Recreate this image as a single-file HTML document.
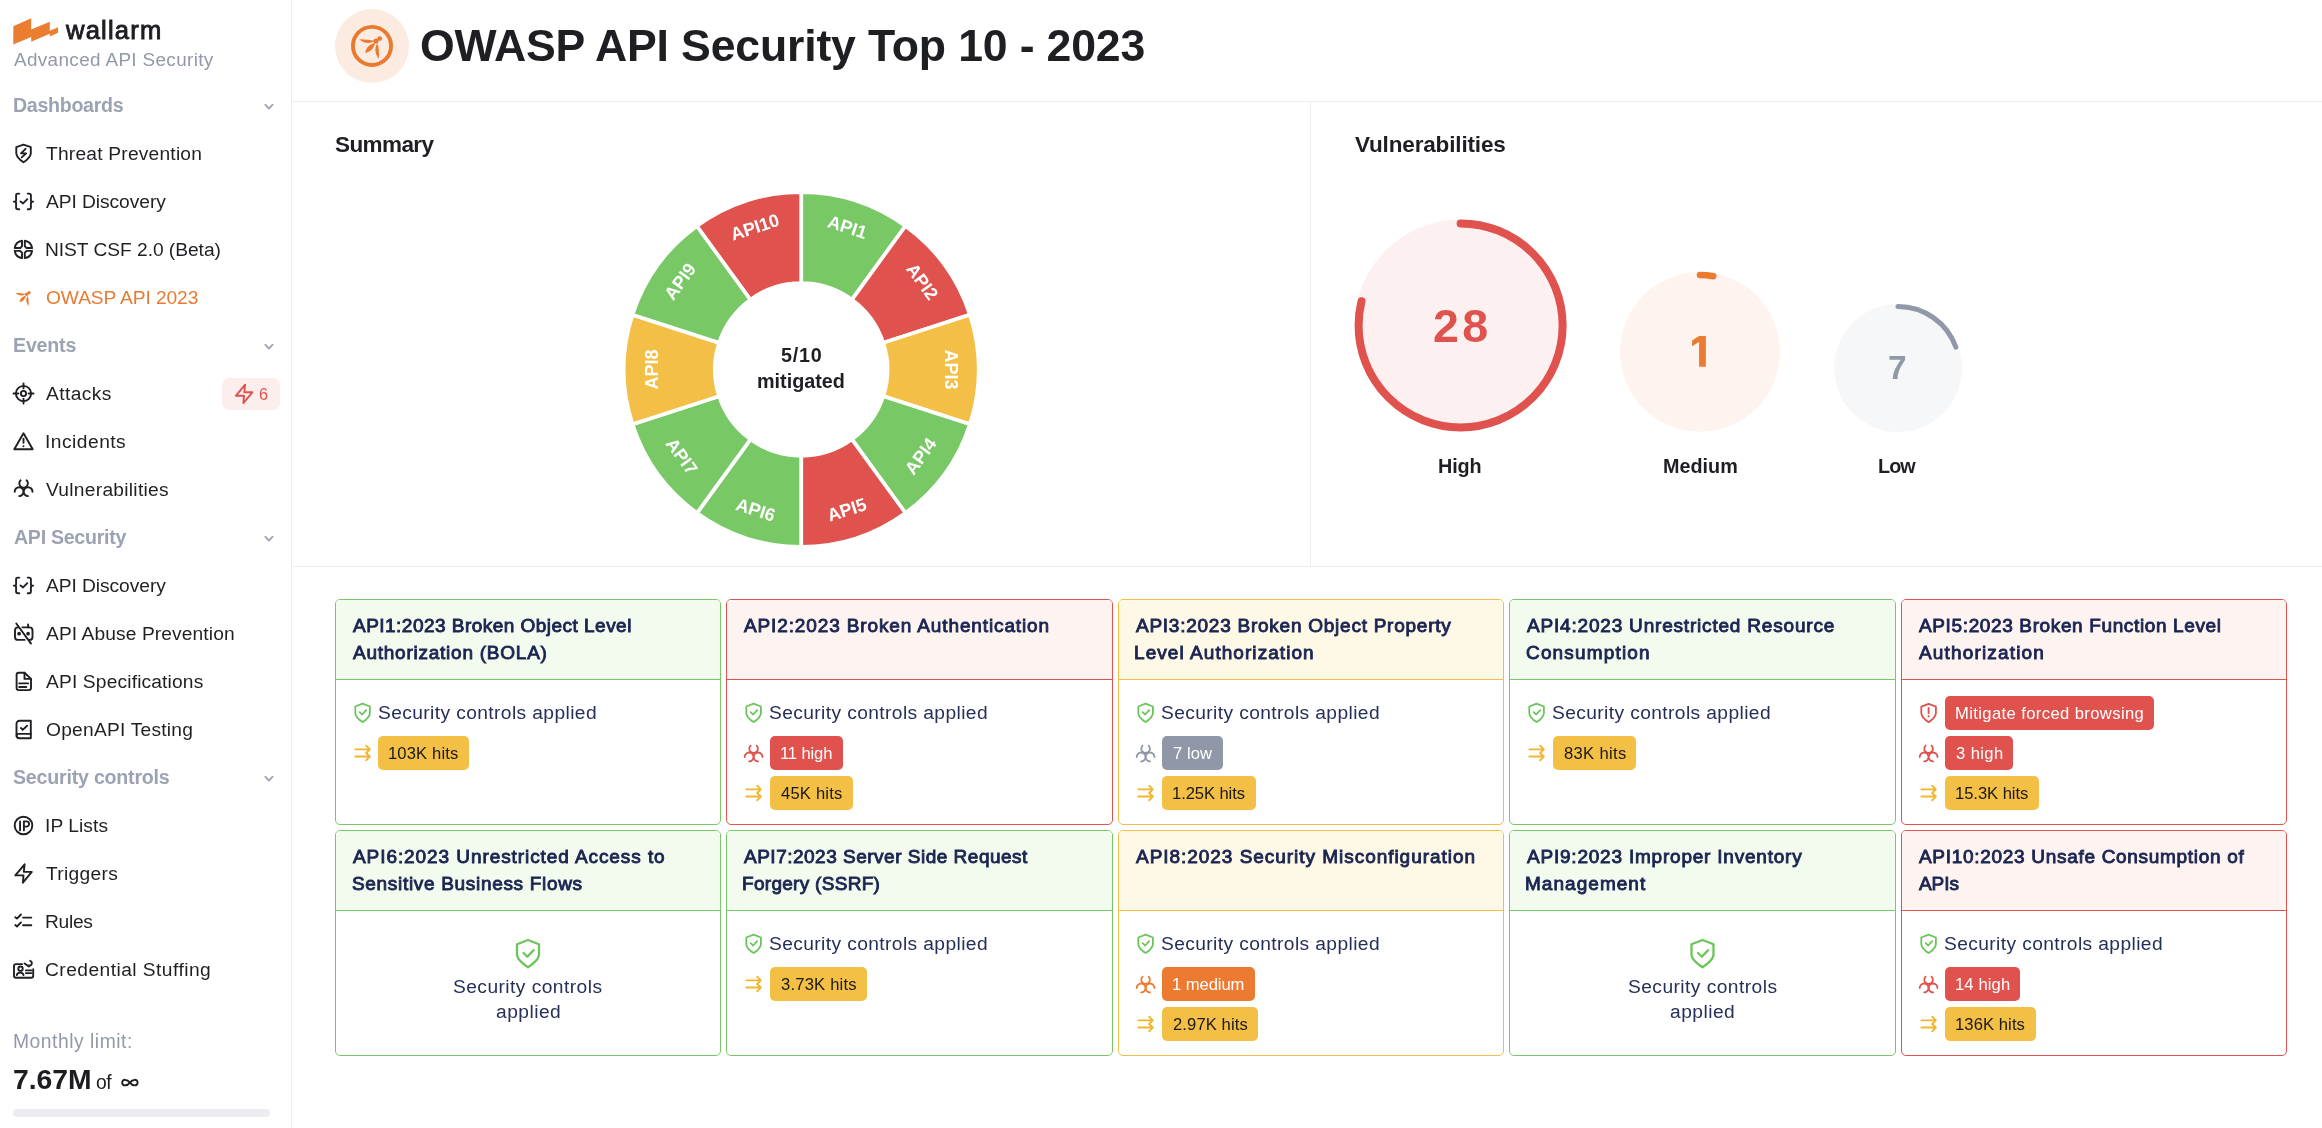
<!DOCTYPE html><html><head><meta charset="utf-8"><style>
*{box-sizing:border-box}
html,body{margin:0;padding:0}
body{width:2322px;height:1128px;overflow:hidden;background:#fff;position:relative;font-family:"Liberation Sans",sans-serif}
.t{position:absolute;line-height:0;white-space:nowrap;z-index:3;will-change:transform}
svg{overflow:visible;z-index:2;will-change:transform}
</style></head><body><div style="position:absolute;left:291px;top:0px;width:1px;height:1128px;background:#eceef3"></div>
<div style="position:absolute;left:292px;top:101px;width:2030px;height:1px;background:#eceef3"></div>
<div style="position:absolute;left:1310px;top:102px;width:1px;height:464px;background:#eceef3"></div>
<div style="position:absolute;left:292px;top:566px;width:2030px;height:1px;background:#eceef3"></div>
<svg style="position:absolute;left:0px;top:0px;" width="70" height="50" viewBox="0 0 70 50"><polygon fill="#eb7d31" points="13.3,26.2 31.2,18.3 31.2,29.6 49.8,21.7 49.8,30.7 58.1,27.2 58.1,32.7 49.8,36.5 49.8,33.8 31.2,41.7 31.2,36.9 13.3,44.5"/></svg>
<div class="t" style="left:65.80px;top:30.00px;font-size:25.6px;font-weight:400;color:#1d1e22;letter-spacing:1.179px;-webkit-text-stroke:0.9px #1d1e22;">wallarm</div>
<div class="t" style="left:14.00px;top:60.00px;font-size:18.9px;font-weight:400;color:#9199aa;letter-spacing:0.355px;">Advanced API Security</div>
<div class="t" style="left:12.73px;top:105.00px;font-size:19.6px;font-weight:700;color:#9ba2b2;letter-spacing:-0.292px;">Dashboards</div>
<div class="t" style="left:12.73px;top:345.00px;font-size:19.6px;font-weight:700;color:#9ba2b2;letter-spacing:-0.186px;">Events</div>
<div class="t" style="left:13.51px;top:537.00px;font-size:19.6px;font-weight:700;color:#9ba2b2;letter-spacing:-0.287px;">API Security</div>
<div class="t" style="left:13.41px;top:777.00px;font-size:19.6px;font-weight:700;color:#9ba2b2;letter-spacing:-0.210px;">Security controls</div>
<div class="t" style="left:46.02px;top:154.00px;font-size:19.2px;font-weight:400;color:#1f2023;letter-spacing:0.212px;">Threat Prevention</div>
<div class="t" style="left:46.40px;top:202.00px;font-size:19.2px;font-weight:400;color:#1f2023;letter-spacing:-0.056px;">API Discovery</div>
<div class="t" style="left:44.86px;top:250.00px;font-size:19.2px;font-weight:400;color:#1f2023;letter-spacing:-0.042px;">NIST CSF 2.0 (Beta)</div>
<div class="t" style="left:45.54px;top:298.00px;font-size:19.2px;font-weight:400;color:#e97a31;letter-spacing:-0.097px;">OWASP API 2023</div>
<div class="t" style="left:46.40px;top:394.00px;font-size:19.2px;font-weight:400;color:#1f2023;letter-spacing:0.399px;">Attacks</div>
<div class="t" style="left:44.67px;top:442.00px;font-size:19.2px;font-weight:400;color:#1f2023;letter-spacing:0.488px;">Incidents</div>
<div class="t" style="left:46.30px;top:490.00px;font-size:19.2px;font-weight:400;color:#1f2023;letter-spacing:0.273px;">Vulnerabilities</div>
<div class="t" style="left:46.40px;top:586.00px;font-size:19.2px;font-weight:400;color:#1f2023;letter-spacing:-0.056px;">API Discovery</div>
<div class="t" style="left:46.40px;top:634.00px;font-size:19.2px;font-weight:400;color:#1f2023;letter-spacing:0.102px;">API Abuse Prevention</div>
<div class="t" style="left:46.40px;top:682.00px;font-size:19.2px;font-weight:400;color:#1f2023;letter-spacing:0.154px;">API Specifications</div>
<div class="t" style="left:45.54px;top:730.00px;font-size:19.2px;font-weight:400;color:#1f2023;letter-spacing:0.236px;">OpenAPI Testing</div>
<div class="t" style="left:44.67px;top:826.00px;font-size:19.2px;font-weight:400;color:#1f2023;letter-spacing:0.058px;">IP Lists</div>
<div class="t" style="left:46.02px;top:874.00px;font-size:19.2px;font-weight:400;color:#1f2023;letter-spacing:0.309px;">Triggers</div>
<div class="t" style="left:44.86px;top:922.00px;font-size:19.2px;font-weight:400;color:#1f2023;letter-spacing:-0.287px;">Rules</div>
<div class="t" style="left:45.44px;top:970.00px;font-size:19.2px;font-weight:400;color:#1f2023;letter-spacing:0.454px;">Credential Stuffing</div>
<svg style="position:absolute;left:0px;top:0px;" width="2322" height="1128" viewBox="0 0 2322 1128"><g transform="translate(10 140)" fill="none" stroke="#1f2023" stroke-width="1.9" stroke-linecap="round" stroke-linejoin="round"><path d="M13.5 4.7L20.8 7.2V13.6C20.2 17.5 17 20 13.5 22.3C10 20 6.8 17.5 6.3 13.6V7.2Z"/><path d="M15.5 8.8L11 13.35H16.2L11.7 17.4"/></g><g transform="translate(10 188)" fill="none" stroke="#1f2023" stroke-width="1.9" stroke-linecap="round" stroke-linejoin="round"><path d="M9.3 5.6H7.8Q6.1 5.6 6.1 7.3V12.2Q6.1 13.65 3.9 13.65Q6.1 13.65 6.1 15.1V19.5Q6.1 21.2 7.8 21.2H9.3"/><path d="M17.7 5.6H19.2Q20.9 5.6 20.9 7.3V12.2Q20.9 13.65 23.1 13.65Q20.9 13.65 20.9 15.1V19.5Q20.9 21.2 19.2 21.2H17.7"/><path d="M10.5 13.4L13.1 15.4L17.3 11.2"/></g><g transform="translate(10 236)" fill="none" stroke="#1f2023" stroke-width="1.9" stroke-linecap="round" stroke-linejoin="round"><path transform="translate(13.4 13.45) rotate(0)" d="M-1.40 -8.69L-1.40 -3.10A3.4 3.4 0 0 0 -3.10 -1.40L-8.69 -1.40A8.8 8.8 0 0 1 -1.40 -8.69Z"/><path transform="translate(13.4 13.45) rotate(90)" d="M-1.40 -8.69L-1.40 -3.10A3.4 3.4 0 0 0 -3.10 -1.40L-8.69 -1.40A8.8 8.8 0 0 1 -1.40 -8.69Z"/><path transform="translate(13.4 13.45) rotate(180)" d="M-1.40 -8.69L-1.40 -3.10A3.4 3.4 0 0 0 -3.10 -1.40L-8.69 -1.40A8.8 8.8 0 0 1 -1.40 -8.69Z"/><path transform="translate(13.4 13.45) rotate(270)" d="M-1.40 -8.69L-1.40 -3.10A3.4 3.4 0 0 0 -3.10 -1.40L-8.69 -1.40A8.8 8.8 0 0 1 -1.40 -8.69Z"/></g><g transform="translate(10 380)" fill="none" stroke="#1f2023" stroke-width="1.9" stroke-linecap="round" stroke-linejoin="round"><circle cx="13.5" cy="13.5" r="7.6"/><circle cx="13.5" cy="13.5" r="2.6"/><path d="M13.5 3.5V8.4M13.5 18.6V23.5M3.5 13.5H8.4M18.6 13.5H23.5"/></g><g transform="translate(10 428)" fill="none" stroke="#1f2023" stroke-width="1.9" stroke-linecap="round" stroke-linejoin="round"><path d="M13.5 5.3L22.7 21.3H4.3Z"/><path d="M13.5 10.7V14.8"/><path d="M13.5 18.2V18.3"/></g><g transform="translate(10 476)" fill="none" stroke="#1f2023" stroke-width="1.9" stroke-linecap="round" stroke-linejoin="round"><path d="M10.6 4.3A4.3 4.3 0 1 0 16.6 4.3"/><path d="M4.7 15.7A4.45 4.45 0 1 1 9.15 20.1"/><path d="M22.5 15.7A4.45 4.45 0 1 0 18.05 20.1"/></g><g transform="translate(10 572)" fill="none" stroke="#1f2023" stroke-width="1.9" stroke-linecap="round" stroke-linejoin="round"><path d="M9.3 5.6H7.8Q6.1 5.6 6.1 7.3V12.2Q6.1 13.65 3.9 13.65Q6.1 13.65 6.1 15.1V19.5Q6.1 21.2 7.8 21.2H9.3"/><path d="M17.7 5.6H19.2Q20.9 5.6 20.9 7.3V12.2Q20.9 13.65 23.1 13.65Q20.9 13.65 20.9 15.1V19.5Q20.9 21.2 19.2 21.2H17.7"/><path d="M10.5 13.4L13.1 15.4L17.3 11.2"/></g><g transform="translate(10 620)" fill="none" stroke="#1f2023" stroke-width="1.9" stroke-linecap="round" stroke-linejoin="round"><path d="M8.2 7.4H8A3 3 0 0 0 5 10.4V16.9A3 3 0 0 0 8 19.9H14.6"/><path d="M12.4 7.4H19.5A3 3 0 0 1 22.5 10.4V16.9A3 3 0 0 1 19.5 19.9H19"/><path d="M6.3 3.5L21 23.6"/><path d="M18.1 4.5V7.4"/><circle cx="9.1" cy="13.7" r="0.9" fill="#1f2023"/><circle cx="18.1" cy="13.7" r="0.9" fill="#1f2023"/></g><g transform="translate(10 668)" fill="none" stroke="#1f2023" stroke-width="1.9" stroke-linecap="round" stroke-linejoin="round"><path d="M14.5 4.8H8.6A2 2 0 0 0 6.6 6.8V20.1A2 2 0 0 0 8.6 22.1H19A2 2 0 0 0 21 20.1V10.9Z"/><path d="M14.5 4.8V10.9H21"/><path d="M9.2 15.4H18.1M9.2 19H16.3"/></g><g transform="translate(10 716)" fill="none" stroke="#1f2023" stroke-width="1.9" stroke-linecap="round" stroke-linejoin="round"><path d="M20.8 4.8V22.2H9.5A3 3 0 0 1 6.5 19.2V7.8A3 3 0 0 1 9.5 4.8Z"/><path d="M20.8 17.9H8.8A2.2 2.2 0 0 0 6.6 20.1"/><path d="M10.9 11.9L12.7 13.9L17.1 9.8"/></g><g transform="translate(10 812)" fill="none" stroke="#1f2023" stroke-width="1.9" stroke-linecap="round" stroke-linejoin="round"><circle cx="13.5" cy="13.5" r="8.8"/><path d="M10.05 9.4V18.4"/><path d="M13.9 18.4V9.4H16.5A2.6 2.6 0 0 1 16.5 14.6H13.9"/></g><g transform="translate(10 860)" fill="none" stroke="#1f2023" stroke-width="1.9" stroke-linecap="round" stroke-linejoin="round"><path d="M14.6 4.3L13.8 11.9H21.8L12.9 22.7L13.5 15.4H5.3Z"/></g><g transform="translate(10 908)" fill="none" stroke="#1f2023" stroke-width="1.9" stroke-linecap="round" stroke-linejoin="round"><path d="M5.3 9.2L7 10.6L11 6.5M5.3 17.1L7 18.5L11 14.4M13 9.6H21.3M13 17.2H21.3"/></g><g transform="translate(10 956)" fill="none" stroke="#1f2023" stroke-width="1.9" stroke-linecap="round" stroke-linejoin="round"><path d="M12.2 8.1H6A2 2 0 0 0 4 10.1V19.7A2 2 0 0 0 6 21.7H21.2A2 2 0 0 0 23.2 19.7V13.2"/><circle cx="10.5" cy="12.7" r="2.2"/><path d="M6.8 19.1A3.4 3 0 0 1 13.5 19.1"/><path d="M15.9 14.4H21.4M15.9 17.1H21.4"/><path d="M14.6 7.5L18.9 10.6"/><path d="M20.2 4.8A2.4 2.4 0 1 1 18.5 9.5"/></g><path d="M15.54 293.10C18.32 295.85 22.39 296.32 25.73 294.30C22.73 293.50 18.65 293.02 15.54 293.10ZM19.40 302.10C22.85 301.58 25.21 299.27 26.13 295.50C22.35 296.35 19.99 298.66 19.40 302.10ZM27.60 295.77C25.56 299.08 25.82 302.19 28.46 306.16C28.91 301.94 28.65 298.82 27.60 295.77Z" fill="#ea7a30"/><circle cx="26.66" cy="294.24" r="1.73" fill="#ea7a30"/><circle cx="29.13" cy="292.64" r="1.60" fill="#ea7a30"/><path d="M265.3 104.7L268.9 108.6L272.6 104.7" fill="none" stroke="#9ba2b2" stroke-width="1.7" stroke-linecap="round" stroke-linejoin="round"/><path d="M265.3 344.7L268.9 348.6L272.6 344.7" fill="none" stroke="#9ba2b2" stroke-width="1.7" stroke-linecap="round" stroke-linejoin="round"/><path d="M265.3 536.7L268.9 540.6L272.6 536.7" fill="none" stroke="#9ba2b2" stroke-width="1.7" stroke-linecap="round" stroke-linejoin="round"/><path d="M265.3 776.7L268.9 780.6L272.6 776.7" fill="none" stroke="#9ba2b2" stroke-width="1.7" stroke-linecap="round" stroke-linejoin="round"/><g transform="translate(230.5 380.4)" fill="none" stroke="#e0524d" stroke-width="1.9" stroke-linecap="round" stroke-linejoin="round"><path d="M14.6 4.3L13.8 11.9H21.8L12.9 22.7L13.5 15.4H5.3Z"/></g><path d="M129.9 1082.6C127.3 1079.2 122.2 1078.6 122.2 1082.6C122.2 1086.6 127.3 1086 129.9 1082.6C132.5 1079.2 137.6 1078.6 137.6 1082.6C137.6 1086.6 132.5 1086 129.9 1082.6Z" fill="none" stroke="#1c1d20" stroke-width="1.9"/><circle cx="372" cy="45.9" r="19.05" fill="none" stroke="#ea7a30" stroke-width="3.9"/><path d="M359.30 39.30C363.47 43.42 369.59 44.14 374.60 41.10C370.09 39.90 363.97 39.18 359.30 39.30ZM365.10 52.80C370.28 52.02 373.81 48.56 375.20 42.90C369.52 44.17 365.98 47.64 365.10 52.80ZM377.40 43.30C374.34 48.27 374.73 52.95 378.70 58.90C379.38 52.56 378.99 47.88 377.40 43.30Z" fill="#ea7a30"/><circle cx="376.00" cy="41.00" r="2.60" fill="#ea7a30"/><circle cx="379.70" cy="38.60" r="2.40" fill="#ea7a30"/></svg>
<div style="position:absolute;left:222px;top:378px;width:58px;height:32px;background:#fdeeee;border-radius:7px"></div>
<div class="t" style="left:259.39px;top:394.00px;font-size:16.2px;font-weight:400;color:#e0524d;letter-spacing:0.000px;">6</div>
<div class="t" style="left:12.86px;top:1042.00px;font-size:19.3px;font-weight:400;color:#9199aa;letter-spacing:0.520px;">Monthly limit:</div>
<div class="t" style="left:12.87px;top:1079.00px;font-size:28.3px;font-weight:700;color:#1c1d20;letter-spacing:-0.040px;">7.67M</div>
<div class="t" style="left:96.13px;top:1083.00px;font-size:19.3px;font-weight:400;color:#1c1d20;letter-spacing:-0.543px;">of</div>
<div style="position:absolute;left:13px;top:1109px;width:257px;height:8px;background:#ebedf2;border-radius:4px"></div>
<div style="position:absolute;left:335px;top:9px;width:74px;height:74px;background:#fcebe1;border-radius:50%"></div>
<div class="t" style="left:420.22px;top:46.00px;font-size:44.6px;font-weight:700;color:#1e1f22;letter-spacing:-0.161px;">OWASP API Security Top 10 - 2023</div>
<div class="t" style="left:335.02px;top:145.00px;font-size:22.5px;font-weight:700;color:#1e1f22;letter-spacing:-0.583px;">Summary</div>
<div class="t" style="left:1354.89px;top:145.00px;font-size:22.5px;font-weight:700;color:#1e1f22;letter-spacing:-0.155px;">Vulnerabilities</div>
<svg style="position:absolute;left:0px;top:0px;pointer-events:none" width="2322" height="1128" viewBox="0 0 2322 1128"><path d="M801.20 192.10A177.4 177.4 0 0 1 905.47 225.98L851.93 299.68A86.3 86.3 0 0 0 801.20 283.20Z" fill="#78c865" stroke="#fff" stroke-width="3.75" stroke-linejoin="miter"/><path d="M905.47 225.98A177.4 177.4 0 0 1 969.92 314.68L883.28 342.83A86.3 86.3 0 0 0 851.93 299.68Z" fill="#df524d" stroke="#fff" stroke-width="3.75" stroke-linejoin="miter"/><path d="M969.92 314.68A177.4 177.4 0 0 1 969.92 424.32L883.28 396.17A86.3 86.3 0 0 0 883.28 342.83Z" fill="#f3bf46" stroke="#fff" stroke-width="3.75" stroke-linejoin="miter"/><path d="M969.92 424.32A177.4 177.4 0 0 1 905.47 513.02L851.93 439.32A86.3 86.3 0 0 0 883.28 396.17Z" fill="#78c865" stroke="#fff" stroke-width="3.75" stroke-linejoin="miter"/><path d="M905.47 513.02A177.4 177.4 0 0 1 801.20 546.90L801.20 455.80A86.3 86.3 0 0 0 851.93 439.32Z" fill="#df524d" stroke="#fff" stroke-width="3.75" stroke-linejoin="miter"/><path d="M801.20 546.90A177.4 177.4 0 0 1 696.93 513.02L750.47 439.32A86.3 86.3 0 0 0 801.20 455.80Z" fill="#78c865" stroke="#fff" stroke-width="3.75" stroke-linejoin="miter"/><path d="M696.93 513.02A177.4 177.4 0 0 1 632.48 424.32L719.12 396.17A86.3 86.3 0 0 0 750.47 439.32Z" fill="#78c865" stroke="#fff" stroke-width="3.75" stroke-linejoin="miter"/><path d="M632.48 424.32A177.4 177.4 0 0 1 632.48 314.68L719.12 342.83A86.3 86.3 0 0 0 719.12 396.17Z" fill="#f3bf46" stroke="#fff" stroke-width="3.75" stroke-linejoin="miter"/><path d="M632.48 314.68A177.4 177.4 0 0 1 696.93 225.98L750.47 299.68A86.3 86.3 0 0 0 719.12 342.83Z" fill="#78c865" stroke="#fff" stroke-width="3.75" stroke-linejoin="miter"/><path d="M696.93 225.98A177.4 177.4 0 0 1 801.20 192.10L801.20 283.20A86.3 86.3 0 0 0 750.47 299.68Z" fill="#df524d" stroke="#fff" stroke-width="3.75" stroke-linejoin="miter"/><text x="0" y="0" transform="translate(847.55 226.84) rotate(18)" text-anchor="middle" dy="0.36em" font-family="Liberation Sans" font-weight="700" font-size="18" fill="#fff">API1</text><text x="0" y="0" transform="translate(922.55 281.33) rotate(54)" text-anchor="middle" dy="0.36em" font-family="Liberation Sans" font-weight="700" font-size="18" fill="#fff">API2</text><text x="0" y="0" transform="translate(951.20 369.50) rotate(90)" text-anchor="middle" dy="0.36em" font-family="Liberation Sans" font-weight="700" font-size="18" fill="#fff">API3</text><text x="0" y="0" transform="translate(920.29 456.02) rotate(-54)" text-anchor="middle" dy="0.36em" font-family="Liberation Sans" font-weight="700" font-size="18" fill="#fff">API4</text><text x="0" y="0" transform="translate(846.69 509.50) rotate(-18)" text-anchor="middle" dy="0.36em" font-family="Liberation Sans" font-weight="700" font-size="18" fill="#fff">API5</text><text x="0" y="0" transform="translate(755.71 509.50) rotate(18)" text-anchor="middle" dy="0.36em" font-family="Liberation Sans" font-weight="700" font-size="18" fill="#fff">API6</text><text x="0" y="0" transform="translate(682.11 456.02) rotate(54)" text-anchor="middle" dy="0.36em" font-family="Liberation Sans" font-weight="700" font-size="18" fill="#fff">API7</text><text x="0" y="0" transform="translate(651.20 369.50) rotate(-90)" text-anchor="middle" dy="0.36em" font-family="Liberation Sans" font-weight="700" font-size="18" fill="#fff">API8</text><text x="0" y="0" transform="translate(679.85 281.33) rotate(-54)" text-anchor="middle" dy="0.36em" font-family="Liberation Sans" font-weight="700" font-size="18" fill="#fff">API9</text><text x="0" y="0" transform="translate(754.85 226.84) rotate(-18)" text-anchor="middle" dy="0.36em" font-family="Liberation Sans" font-weight="700" font-size="18" fill="#fff">API10</text></svg>
<div class="t" style="left:780.76px;top:355.00px;font-size:19.8px;font-weight:700;color:#1e1f22;letter-spacing:0.725px;">5/10</div>
<div class="t" style="left:757.01px;top:381.00px;font-size:19.8px;font-weight:700;color:#1e1f22;letter-spacing:-0.005px;">mitigated</div>
<svg style="position:absolute;left:0px;top:0px;" width="2322" height="1128" viewBox="0 0 2322 1128"><circle cx="1460.6" cy="325.4" r="106" fill="#fdf0f0"/><circle cx="1460.6" cy="325.4" r="102.0" fill="none" stroke="#df524d" stroke-width="8" stroke-linecap="round" stroke-dasharray="504.38 640.88" transform="rotate(-90 1460.6 325.4)"/><circle cx="1700" cy="351.8" r="80" fill="#fef4ef"/><circle cx="1700" cy="351.8" r="76.75" fill="none" stroke="#ec7a30" stroke-width="6.5" stroke-linecap="round" stroke-dasharray="13.40 482.23" transform="rotate(-90 1700 351.8)"/><circle cx="1898" cy="368" r="64" fill="#f6f7f9"/><circle cx="1898" cy="368" r="61.5" fill="none" stroke="#9198a8" stroke-width="5" stroke-linecap="round" stroke-dasharray="75.14 386.42" transform="rotate(-90 1898 368)"/><polygon fill="#ec7a30" points="1699.07,335.95 1705.84,335.95 1705.84,366.84 1699.07,366.84 1699.07,341.9 1692.07,346.19 1692.07,340.42"/></svg>
<div class="t" style="left:1432.97px;top:326.00px;font-size:46.5px;font-weight:700;color:#df524d;letter-spacing:3.407px;">28</div>
<div class="t" style="left:1888.03px;top:368.00px;font-size:33.4px;font-weight:700;color:#9198a8;letter-spacing:0.000px;">7</div>
<div class="t" style="left:1438.41px;top:466.00px;font-size:19.8px;font-weight:700;color:#1e1f22;letter-spacing:-0.094px;">High</div>
<div class="t" style="left:1662.81px;top:466.00px;font-size:19.8px;font-weight:700;color:#1e1f22;letter-spacing:0.006px;">Medium</div>
<div class="t" style="left:1877.86px;top:466.00px;font-size:19.8px;font-weight:700;color:#1e1f22;letter-spacing:-0.907px;">Low</div>
<div style="position:absolute;left:335px;top:599px;width:386px;height:226px;border:1px solid #79c867;border-radius:5px;background:#fff;overflow:hidden"><div style="height:80px;background:#f3fbef;border-bottom:1px solid #79c867"></div></div>
<div class="t" style="left:352.90px;top:626.00px;font-size:19.0px;font-weight:400;color:#1b2551;letter-spacing:0.474px;-webkit-text-stroke:0.9px #1b2551;">API1:2023 Broken Object Level</div>
<div class="t" style="left:352.90px;top:653.00px;font-size:19.0px;font-weight:400;color:#1b2551;letter-spacing:0.757px;-webkit-text-stroke:0.9px #1b2551;">Authorization (BOLA)</div>
<div style="position:absolute;left:726px;top:599px;width:387px;height:226px;border:1px solid #e0534e;border-radius:5px;background:#fff;overflow:hidden"><div style="height:80px;background:#fdf4f2;border-bottom:1px solid #e0534e"></div></div>
<div class="t" style="left:743.90px;top:626.00px;font-size:19.0px;font-weight:400;color:#1b2551;letter-spacing:0.874px;-webkit-text-stroke:0.9px #1b2551;">API2:2023 Broken Authentication</div>
<div style="position:absolute;left:1118px;top:599px;width:386px;height:226px;border:1px solid #f2be48;border-radius:5px;background:#fff;overflow:hidden"><div style="height:80px;background:#fef8e7;border-bottom:1px solid #f2be48"></div></div>
<div class="t" style="left:1135.90px;top:626.00px;font-size:19.0px;font-weight:400;color:#1b2551;letter-spacing:0.750px;-webkit-text-stroke:0.9px #1b2551;">API3:2023 Broken Object Property</div>
<div class="t" style="left:1134.38px;top:653.00px;font-size:19.0px;font-weight:400;color:#1b2551;letter-spacing:1.061px;-webkit-text-stroke:0.9px #1b2551;">Level Authorization</div>
<div style="position:absolute;left:1509px;top:599px;width:387px;height:226px;border:1px solid #79c867;border-radius:5px;background:#fff;overflow:hidden"><div style="height:80px;background:#f3fbef;border-bottom:1px solid #79c867"></div></div>
<div class="t" style="left:1526.90px;top:626.00px;font-size:19.0px;font-weight:400;color:#1b2551;letter-spacing:0.808px;-webkit-text-stroke:0.9px #1b2551;">API4:2023 Unrestricted Resource</div>
<div class="t" style="left:1525.95px;top:653.00px;font-size:19.0px;font-weight:400;color:#1b2551;letter-spacing:1.167px;-webkit-text-stroke:0.9px #1b2551;">Consumption</div>
<div style="position:absolute;left:1901px;top:599px;width:386px;height:226px;border:1px solid #e0534e;border-radius:5px;background:#fff;overflow:hidden"><div style="height:80px;background:#fdf4f2;border-bottom:1px solid #e0534e"></div></div>
<div class="t" style="left:1918.90px;top:626.00px;font-size:19.0px;font-weight:400;color:#1b2551;letter-spacing:0.631px;-webkit-text-stroke:0.9px #1b2551;">API5:2023 Broken Function Level</div>
<div class="t" style="left:1918.90px;top:653.00px;font-size:19.0px;font-weight:400;color:#1b2551;letter-spacing:1.164px;-webkit-text-stroke:0.9px #1b2551;">Authorization</div>
<div style="position:absolute;left:335px;top:830px;width:386px;height:226px;border:1px solid #79c867;border-radius:5px;background:#fff;overflow:hidden"><div style="height:80px;background:#f3fbef;border-bottom:1px solid #79c867"></div></div>
<div class="t" style="left:352.90px;top:857.00px;font-size:19.0px;font-weight:400;color:#1b2551;letter-spacing:0.924px;-webkit-text-stroke:0.9px #1b2551;">API6:2023 Unrestricted Access to</div>
<div class="t" style="left:352.04px;top:884.00px;font-size:19.0px;font-weight:400;color:#1b2551;letter-spacing:0.683px;-webkit-text-stroke:0.9px #1b2551;">Sensitive Business Flows</div>
<div style="position:absolute;left:726px;top:830px;width:387px;height:226px;border:1px solid #79c867;border-radius:5px;background:#fff;overflow:hidden"><div style="height:80px;background:#f3fbef;border-bottom:1px solid #79c867"></div></div>
<div class="t" style="left:743.90px;top:857.00px;font-size:19.0px;font-weight:400;color:#1b2551;letter-spacing:0.502px;-webkit-text-stroke:0.9px #1b2551;">API7:2023 Server Side Request</div>
<div class="t" style="left:742.38px;top:884.00px;font-size:19.0px;font-weight:400;color:#1b2551;letter-spacing:0.293px;-webkit-text-stroke:0.9px #1b2551;">Forgery (SSRF)</div>
<div style="position:absolute;left:1118px;top:830px;width:386px;height:226px;border:1px solid #f2be48;border-radius:5px;background:#fff;overflow:hidden"><div style="height:80px;background:#fef8e7;border-bottom:1px solid #f2be48"></div></div>
<div class="t" style="left:1135.90px;top:857.00px;font-size:19.0px;font-weight:400;color:#1b2551;letter-spacing:0.963px;-webkit-text-stroke:0.9px #1b2551;">API8:2023 Security Misconfiguration</div>
<div style="position:absolute;left:1509px;top:830px;width:387px;height:226px;border:1px solid #79c867;border-radius:5px;background:#fff;overflow:hidden"><div style="height:80px;background:#f3fbef;border-bottom:1px solid #79c867"></div></div>
<div class="t" style="left:1526.90px;top:857.00px;font-size:19.0px;font-weight:400;color:#1b2551;letter-spacing:0.787px;-webkit-text-stroke:0.9px #1b2551;">API9:2023 Improper Inventory</div>
<div class="t" style="left:1525.38px;top:884.00px;font-size:19.0px;font-weight:400;color:#1b2551;letter-spacing:1.039px;-webkit-text-stroke:0.9px #1b2551;">Management</div>
<div style="position:absolute;left:1901px;top:830px;width:386px;height:226px;border:1px solid #e0534e;border-radius:5px;background:#fff;overflow:hidden"><div style="height:80px;background:#fdf4f2;border-bottom:1px solid #e0534e"></div></div>
<div class="t" style="left:1918.90px;top:857.00px;font-size:19.0px;font-weight:400;color:#1b2551;letter-spacing:0.699px;-webkit-text-stroke:0.9px #1b2551;">API10:2023 Unsafe Consumption of</div>
<div class="t" style="left:1918.90px;top:884.00px;font-size:19.0px;font-weight:400;color:#1b2551;letter-spacing:-0.075px;-webkit-text-stroke:0.9px #1b2551;">APIs</div>
<div class="t" style="left:378.34px;top:713.00px;font-size:19.2px;font-weight:400;color:#252f58;letter-spacing:0.397px;">Security controls applied</div>
<div style="position:absolute;left:378px;top:736px;width:91px;height:34px;background:#f3bf45;border-radius:5px"></div>
<div class="t" style="left:388.31px;top:754.00px;font-size:16.6px;font-weight:400;color:#1a1a1a;letter-spacing:0.138px;">103K hits</div>
<div class="t" style="left:769.34px;top:713.00px;font-size:19.2px;font-weight:400;color:#252f58;letter-spacing:0.397px;">Security controls applied</div>
<div style="position:absolute;left:770px;top:736px;width:72.6px;height:34px;background:#e0524d;border-radius:5px"></div>
<div class="t" style="left:780.30px;top:754.00px;font-size:16.6px;font-weight:400;color:#ffffff;letter-spacing:-0.130px;">11 high</div>
<div style="position:absolute;left:770px;top:776px;width:83px;height:34px;background:#f3bf45;border-radius:5px"></div>
<div class="t" style="left:781.22px;top:794.00px;font-size:16.6px;font-weight:400;color:#1a1a1a;letter-spacing:0.201px;">45K hits</div>
<div class="t" style="left:1161.34px;top:713.00px;font-size:19.2px;font-weight:400;color:#252f58;letter-spacing:0.397px;">Security controls applied</div>
<div style="position:absolute;left:1162px;top:736px;width:60.7px;height:34px;background:#9097a6;border-radius:5px"></div>
<div class="t" style="left:1172.72px;top:754.00px;font-size:16.6px;font-weight:400;color:#ffffff;letter-spacing:0.067px;">7 low</div>
<div style="position:absolute;left:1162px;top:776px;width:93.7px;height:34px;background:#f3bf45;border-radius:5px"></div>
<div class="t" style="left:1172.31px;top:794.00px;font-size:16.6px;font-weight:400;color:#1a1a1a;letter-spacing:-0.085px;">1.25K hits</div>
<div class="t" style="left:1552.34px;top:713.00px;font-size:19.2px;font-weight:400;color:#252f58;letter-spacing:0.397px;">Security controls applied</div>
<div style="position:absolute;left:1553px;top:736px;width:83.4px;height:34px;background:#f3bf45;border-radius:5px"></div>
<div class="t" style="left:1563.80px;top:754.00px;font-size:16.6px;font-weight:400;color:#1a1a1a;letter-spacing:0.317px;">83K hits</div>
<div style="position:absolute;left:1945px;top:696px;width:209px;height:34px;background:#e0524d;border-radius:5px"></div>
<div class="t" style="left:1955.22px;top:714.00px;font-size:16.6px;font-weight:400;color:#ffffff;letter-spacing:0.390px;">Mitigate forced browsing</div>
<div style="position:absolute;left:1945px;top:736px;width:68px;height:34px;background:#e0524d;border-radius:5px"></div>
<div class="t" style="left:1955.89px;top:754.00px;font-size:16.6px;font-weight:400;color:#ffffff;letter-spacing:0.402px;">3 high</div>
<div style="position:absolute;left:1945px;top:776px;width:94px;height:34px;background:#f3bf45;border-radius:5px"></div>
<div class="t" style="left:1955.31px;top:794.00px;font-size:16.6px;font-weight:400;color:#1a1a1a;letter-spacing:-0.051px;">15.3K hits</div>
<div class="t" style="left:453.39px;top:987.00px;font-size:19.2px;font-weight:400;color:#252f58;letter-spacing:0.447px;">Security controls</div>
<div class="t" style="left:495.83px;top:1012.00px;font-size:19.2px;font-weight:400;color:#252f58;letter-spacing:0.483px;">applied</div>
<div class="t" style="left:769.34px;top:944.00px;font-size:19.2px;font-weight:400;color:#252f58;letter-spacing:0.397px;">Security controls applied</div>
<div style="position:absolute;left:770px;top:967px;width:96.8px;height:34px;background:#f3bf45;border-radius:5px"></div>
<div class="t" style="left:780.89px;top:985.00px;font-size:16.6px;font-weight:400;color:#1a1a1a;letter-spacing:0.195px;">3.73K hits</div>
<div class="t" style="left:1161.34px;top:944.00px;font-size:19.2px;font-weight:400;color:#252f58;letter-spacing:0.397px;">Security controls applied</div>
<div style="position:absolute;left:1162px;top:967px;width:92.7px;height:34px;background:#ec7a31;border-radius:5px"></div>
<div class="t" style="left:1172.31px;top:985.00px;font-size:16.6px;font-weight:400;color:#ffffff;letter-spacing:-0.062px;">1 medium</div>
<div style="position:absolute;left:1162px;top:1007px;width:95.8px;height:34px;background:#f3bf45;border-radius:5px"></div>
<div class="t" style="left:1172.72px;top:1025.00px;font-size:16.6px;font-weight:400;color:#1a1a1a;letter-spacing:0.103px;">2.97K hits</div>
<div class="t" style="left:1627.89px;top:987.00px;font-size:19.2px;font-weight:400;color:#252f58;letter-spacing:0.447px;">Security controls</div>
<div class="t" style="left:1670.33px;top:1012.00px;font-size:19.2px;font-weight:400;color:#252f58;letter-spacing:0.483px;">applied</div>
<div class="t" style="left:1944.34px;top:944.00px;font-size:19.2px;font-weight:400;color:#252f58;letter-spacing:0.397px;">Security controls applied</div>
<div style="position:absolute;left:1945px;top:967px;width:75.3px;height:34px;background:#e0524d;border-radius:5px"></div>
<div class="t" style="left:1955.31px;top:985.00px;font-size:16.6px;font-weight:400;color:#ffffff;letter-spacing:0.113px;">14 high</div>
<div style="position:absolute;left:1945px;top:1007px;width:90.6px;height:34px;background:#f3bf45;border-radius:5px"></div>
<div class="t" style="left:1955.31px;top:1025.00px;font-size:16.6px;font-weight:400;color:#1a1a1a;letter-spacing:0.088px;">136K hits</div>
<svg style="position:absolute;left:0px;top:0px;" width="2322" height="1128" viewBox="0 0 2322 1128"><path d="M362.60 703.70L369.90 706.50L369.90 713.30C369.30 717.30 366.10 719.90 362.60 722.10C359.10 719.90 355.90 717.30 355.30 713.30L355.30 706.50Z" fill="none" stroke="#6cc55c" stroke-width="1.8" stroke-linejoin="round"/><path d="M359.60 712.20L362.20 714.50L366.20 710.20" fill="none" stroke="#6cc55c" stroke-width="1.8" stroke-linecap="round" stroke-linejoin="round"/><path transform="translate(350.05 740.40)" d="M5.3 9H19.6M5.3 16.1H19.6M16.1 5.3L19.8 9L16.1 12.6L19.8 16.1L16.1 19.9" fill="none" stroke="#f1b62f" stroke-width="1.9" stroke-linecap="round" stroke-linejoin="round"/><path d="M753.60 703.70L760.90 706.50L760.90 713.30C760.30 717.30 757.10 719.90 753.60 722.10C750.10 719.90 746.90 717.30 746.30 713.30L746.30 706.50Z" fill="none" stroke="#6cc55c" stroke-width="1.8" stroke-linejoin="round"/><path d="M750.60 712.20L753.20 714.50L757.20 710.20" fill="none" stroke="#6cc55c" stroke-width="1.8" stroke-linecap="round" stroke-linejoin="round"/><g transform="translate(740.00 741.30)" fill="none" stroke="#e0524d" stroke-width="1.8" stroke-linecap="round"><path d="M10.6 4.3A4.3 4.3 0 1 0 16.6 4.3"/><path d="M4.7 15.7A4.45 4.45 0 1 1 9.15 20.1"/><path d="M22.5 15.7A4.45 4.45 0 1 0 18.05 20.1"/></g><path transform="translate(741.05 780.40)" d="M5.3 9H19.6M5.3 16.1H19.6M16.1 5.3L19.8 9L16.1 12.6L19.8 16.1L16.1 19.9" fill="none" stroke="#f1b62f" stroke-width="1.9" stroke-linecap="round" stroke-linejoin="round"/><path d="M1145.60 703.70L1152.90 706.50L1152.90 713.30C1152.30 717.30 1149.10 719.90 1145.60 722.10C1142.10 719.90 1138.90 717.30 1138.30 713.30L1138.30 706.50Z" fill="none" stroke="#6cc55c" stroke-width="1.8" stroke-linejoin="round"/><path d="M1142.60 712.20L1145.20 714.50L1149.20 710.20" fill="none" stroke="#6cc55c" stroke-width="1.8" stroke-linecap="round" stroke-linejoin="round"/><g transform="translate(1132.00 741.30)" fill="none" stroke="#9097a6" stroke-width="1.8" stroke-linecap="round"><path d="M10.6 4.3A4.3 4.3 0 1 0 16.6 4.3"/><path d="M4.7 15.7A4.45 4.45 0 1 1 9.15 20.1"/><path d="M22.5 15.7A4.45 4.45 0 1 0 18.05 20.1"/></g><path transform="translate(1133.05 780.40)" d="M5.3 9H19.6M5.3 16.1H19.6M16.1 5.3L19.8 9L16.1 12.6L19.8 16.1L16.1 19.9" fill="none" stroke="#f1b62f" stroke-width="1.9" stroke-linecap="round" stroke-linejoin="round"/><path d="M1536.60 703.70L1543.90 706.50L1543.90 713.30C1543.30 717.30 1540.10 719.90 1536.60 722.10C1533.10 719.90 1529.90 717.30 1529.30 713.30L1529.30 706.50Z" fill="none" stroke="#6cc55c" stroke-width="1.8" stroke-linejoin="round"/><path d="M1533.60 712.20L1536.20 714.50L1540.20 710.20" fill="none" stroke="#6cc55c" stroke-width="1.8" stroke-linecap="round" stroke-linejoin="round"/><path transform="translate(1524.05 740.40)" d="M5.3 9H19.6M5.3 16.1H19.6M16.1 5.3L19.8 9L16.1 12.6L19.8 16.1L16.1 19.9" fill="none" stroke="#f1b62f" stroke-width="1.9" stroke-linecap="round" stroke-linejoin="round"/><path d="M1928.60 703.80L1935.90 706.60L1935.90 713.40C1935.30 717.40 1932.10 720.00 1928.60 722.20C1925.10 720.00 1921.90 717.40 1921.30 713.40L1921.30 706.60Z" fill="none" stroke="#e0524d" stroke-width="1.8" stroke-linejoin="round"/><path d="M1928.60 708.00V713.20" stroke="#e0524d" stroke-width="1.9" stroke-linecap="round"/><circle cx="1928.60" cy="716.30" r="1.1" fill="#e0524d"/><g transform="translate(1915.00 741.30)" fill="none" stroke="#e0524d" stroke-width="1.8" stroke-linecap="round"><path d="M10.6 4.3A4.3 4.3 0 1 0 16.6 4.3"/><path d="M4.7 15.7A4.45 4.45 0 1 1 9.15 20.1"/><path d="M22.5 15.7A4.45 4.45 0 1 0 18.05 20.1"/></g><path transform="translate(1916.05 780.40)" d="M5.3 9H19.6M5.3 16.1H19.6M16.1 5.3L19.8 9L16.1 12.6L19.8 16.1L16.1 19.9" fill="none" stroke="#f1b62f" stroke-width="1.9" stroke-linecap="round" stroke-linejoin="round"/><path d="M528.00 940.00L539.00 944.20L539.00 955.30C538.00 960.50 533.00 964.00 528.00 967.30C523.00 964.00 518.00 960.50 517.00 955.30L517.00 944.20Z" fill="none" stroke="#6cc55c" stroke-width="2.3" stroke-linejoin="round"/><path d="M523.50 953.00L527.40 956.60L533.60 950.20" fill="none" stroke="#6cc55c" stroke-width="2.3" stroke-linecap="round" stroke-linejoin="round"/><path d="M753.60 934.70L760.90 937.50L760.90 944.30C760.30 948.30 757.10 950.90 753.60 953.10C750.10 950.90 746.90 948.30 746.30 944.30L746.30 937.50Z" fill="none" stroke="#6cc55c" stroke-width="1.8" stroke-linejoin="round"/><path d="M750.60 943.20L753.20 945.50L757.20 941.20" fill="none" stroke="#6cc55c" stroke-width="1.8" stroke-linecap="round" stroke-linejoin="round"/><path transform="translate(741.05 971.40)" d="M5.3 9H19.6M5.3 16.1H19.6M16.1 5.3L19.8 9L16.1 12.6L19.8 16.1L16.1 19.9" fill="none" stroke="#f1b62f" stroke-width="1.9" stroke-linecap="round" stroke-linejoin="round"/><path d="M1145.60 934.70L1152.90 937.50L1152.90 944.30C1152.30 948.30 1149.10 950.90 1145.60 953.10C1142.10 950.90 1138.90 948.30 1138.30 944.30L1138.30 937.50Z" fill="none" stroke="#6cc55c" stroke-width="1.8" stroke-linejoin="round"/><path d="M1142.60 943.20L1145.20 945.50L1149.20 941.20" fill="none" stroke="#6cc55c" stroke-width="1.8" stroke-linecap="round" stroke-linejoin="round"/><g transform="translate(1132.00 972.30)" fill="none" stroke="#ec7a31" stroke-width="1.8" stroke-linecap="round"><path d="M10.6 4.3A4.3 4.3 0 1 0 16.6 4.3"/><path d="M4.7 15.7A4.45 4.45 0 1 1 9.15 20.1"/><path d="M22.5 15.7A4.45 4.45 0 1 0 18.05 20.1"/></g><path transform="translate(1133.05 1011.40)" d="M5.3 9H19.6M5.3 16.1H19.6M16.1 5.3L19.8 9L16.1 12.6L19.8 16.1L16.1 19.9" fill="none" stroke="#f1b62f" stroke-width="1.9" stroke-linecap="round" stroke-linejoin="round"/><path d="M1702.50 940.00L1713.50 944.20L1713.50 955.30C1712.50 960.50 1707.50 964.00 1702.50 967.30C1697.50 964.00 1692.50 960.50 1691.50 955.30L1691.50 944.20Z" fill="none" stroke="#6cc55c" stroke-width="2.3" stroke-linejoin="round"/><path d="M1698.00 953.00L1701.90 956.60L1708.10 950.20" fill="none" stroke="#6cc55c" stroke-width="2.3" stroke-linecap="round" stroke-linejoin="round"/><path d="M1928.60 934.70L1935.90 937.50L1935.90 944.30C1935.30 948.30 1932.10 950.90 1928.60 953.10C1925.10 950.90 1921.90 948.30 1921.30 944.30L1921.30 937.50Z" fill="none" stroke="#6cc55c" stroke-width="1.8" stroke-linejoin="round"/><path d="M1925.60 943.20L1928.20 945.50L1932.20 941.20" fill="none" stroke="#6cc55c" stroke-width="1.8" stroke-linecap="round" stroke-linejoin="round"/><g transform="translate(1915.00 972.30)" fill="none" stroke="#e0524d" stroke-width="1.8" stroke-linecap="round"><path d="M10.6 4.3A4.3 4.3 0 1 0 16.6 4.3"/><path d="M4.7 15.7A4.45 4.45 0 1 1 9.15 20.1"/><path d="M22.5 15.7A4.45 4.45 0 1 0 18.05 20.1"/></g><path transform="translate(1916.05 1011.40)" d="M5.3 9H19.6M5.3 16.1H19.6M16.1 5.3L19.8 9L16.1 12.6L19.8 16.1L16.1 19.9" fill="none" stroke="#f1b62f" stroke-width="1.9" stroke-linecap="round" stroke-linejoin="round"/></svg></body></html>
